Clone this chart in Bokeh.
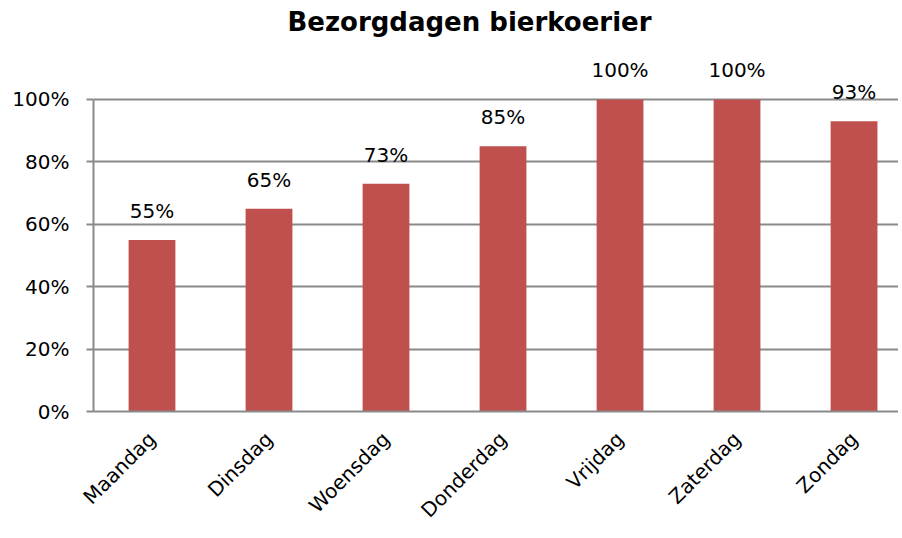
import math
from bokeh.plotting import figure
from bokeh.models import Range1d, FixedTicker, NumeralTickFormatter, ColumnDataSource, Label
from bokeh.core.properties import value
from bokeh.embed import file_html
from bokeh.resources import INLINE

days = ["Maandag", "Dinsdag", "Woensdag", "Donderdag", "Vrijdag", "Zaterdag", "Zondag"]
shares = [0.55, 0.65, 0.73, 0.85, 1.00, 1.00, 0.93]
share_labels = ["55%", "65%", "73%", "85%", "100%", "100%", "93%"]
y_ticks = [0, 0.2, 0.4, 0.6, 0.8, 1.0]
title_text = "Bezorgdagen bierkoerier"

xs = list(range(len(days)))
src = ColumnDataSource(dict(x=xs, top=shares, lab=share_labels))

p = figure(width=898, height=536, output_backend="svg", toolbar_location=None,
           x_range=Range1d(-0.5, 6.38), y_range=Range1d(0, 1.3173),
           min_border_left=93, min_border_right=0, min_border_top=0, min_border_bottom=125)
p.outline_line_color = None
p.background_fill_color = "white"

p.vbar(x="x", top="top", width=0.4, bottom=0, source=src,
       fill_color="#C0504D", line_color=None)

p.text(x="x", y="top", text="lab", source=src, text_align="center", text_baseline="bottom",
       y_offset=-17, text_font=value("DejaVu Sans"), text_font_size="20px", text_color="#000000")

# grid
p.xgrid.grid_line_color = None
p.ygrid.ticker = FixedTicker(ticks=y_ticks)
p.ygrid.grid_line_color = "#8a8a8a"
p.ygrid.grid_line_width = 2

# y axis
ya = p.yaxis[0]
ya.ticker = FixedTicker(ticks=y_ticks)
ya.formatter = NumeralTickFormatter(format="0%")
ya.bounds = (0, 1)
ya.axis_line_color = "#8a8a8a"
ya.axis_line_width = 2
ya.major_tick_line_color = "#8a8a8a"
ya.major_tick_line_width = 2
ya.major_tick_out = 7
ya.major_tick_in = 0
ya.minor_tick_line_color = None
ya.major_label_standoff = 17
ya.major_label_text_font = "DejaVu Sans"
ya.major_label_text_font_size = "20px"
ya.major_label_text_color = "#000000"

# x axis
xa = p.xaxis[0]
xa.ticker = FixedTicker(ticks=xs)
xa.major_label_overrides = {i: d for i, d in enumerate(days)}
xa.major_label_orientation = math.pi / 4
xa.axis_line_color = "#8a8a8a"
xa.axis_line_width = 2
xa.major_tick_line_color = None
xa.major_tick_out = 0
xa.major_tick_in = 0
xa.minor_tick_line_color = None
xa.major_label_standoff = 24
xa.major_label_text_font = "DejaVu Sans"
xa.major_label_text_font_size = "20px"
xa.major_label_text_color = "#000000"

p.add_layout(Label(x=376, y=1.2468, x_units="screen", y_units="data", text=title_text,
                   text_align="center", text_baseline="alphabetic",
                   text_font="DejaVu Sans", text_font_style="bold", text_font_size="26px",
                   text_color="#000000"))

open("out.html", "w").write(file_html(p, INLINE))
